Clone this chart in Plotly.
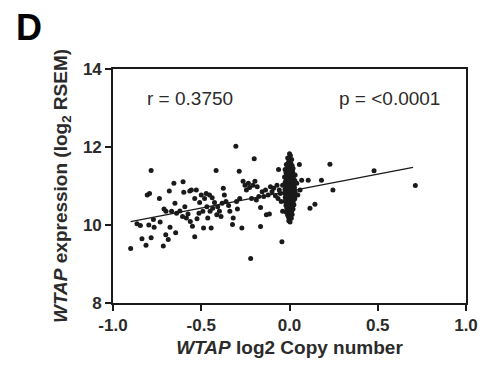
import plotly.graph_objects as go

# WTAP copy number (log2) vs expression (log2 RSEM), samples away from the diploid cluster
spread_x = [
    -0.90, -0.864, -0.845, -0.836, -0.813, -0.806, -0.793, -0.784, -0.784, -0.797,
    -0.767, -0.771, -0.737, -0.733, -0.715, -0.711, -0.70, -0.701, -0.687, -0.681,
    -0.677, -0.668, -0.655, -0.645, -0.649, -0.64, -0.621, -0.603, -0.599, -0.606,
    -0.593, -0.584, -0.575, -0.565, -0.556, -0.562, -0.55, -0.537, -0.537, -0.528,
    -0.524, -0.513, -0.509, -0.50, -0.491, -0.487, -0.481, -0.472, -0.468, -0.463,
    -0.453, -0.45, -0.444, -0.438, -0.435, -0.425, -0.416, -0.412, -0.407, -0.397,
    -0.388, -0.382, -0.375, -0.369, -0.36, -0.345, -0.338, -0.323, -0.319, -0.304,
    -0.30, -0.295, -0.285, -0.282, -0.27, -0.263, -0.252, -0.244, -0.233, -0.226,
    -0.22, -0.215, -0.207, -0.20, -0.196, -0.188, -0.183, -0.174, -0.164, -0.164,
    -0.155, -0.146, -0.136, -0.131, -0.121, -0.114, -0.108, -0.099, -0.09, -0.08,
    -0.071, -0.065, -0.062, -0.058, -0.052, -0.047, -0.043, -0.039, -0.039,
    0.032, 0.041, 0.047, 0.056, 0.06, 0.069, 0.106, 0.116, 0.144, 0.181,
    0.229, 0.246, 0.479, 0.713,
]
spread_y = [
    9.40, 10.03, 9.99, 9.65, 9.48, 10.77, 10.81, 11.40, 9.67, 10.00,
    9.94, 10.14, 10.68, 10.08, 9.46, 10.41, 10.35, 9.75, 9.63, 10.87,
    9.94, 10.35, 11.07, 9.80, 10.56, 10.30, 10.36, 11.11, 10.84, 10.22,
    10.47, 10.18, 10.28, 10.87, 10.90, 10.09, 9.97, 9.70, 10.68, 10.90,
    10.16, 10.30, 10.58, 10.77, 10.35, 9.92, 10.68, 10.81, 10.47, 10.18,
    10.77, 10.35, 9.92, 10.70, 10.43, 10.58, 11.40, 10.26, 10.47, 10.35,
    10.22, 10.56, 10.94, 10.77, 10.60, 10.50, 10.35, 10.01, 10.18, 12.02,
    10.60, 10.41, 11.38, 10.68, 9.92, 11.12, 11.02, 10.90, 11.07, 10.96,
    9.14, 10.68, 11.02, 11.70, 11.12, 10.64, 10.98, 10.73, 9.96, 10.45,
    10.85, 10.73, 10.90, 10.26, 10.77, 10.28, 10.98, 10.85, 10.94, 10.75,
    11.02, 10.68, 11.42, 10.90, 10.81, 10.60, 9.57, 11.02, 10.35,
    11.28, 11.07, 10.77, 11.55, 10.90, 11.15, 11.15, 10.43, 10.53, 11.15,
    11.56, 10.90, 11.39, 11.01,
]

# Samples with copy number close to zero
cluster_x = [
    0.0, 0.005, -0.01, 0.012, -0.005, 0.008, -0.018, 0.015, 0.0, -0.012,
    0.02, -0.025, 0.004, -0.008, 0.018, -0.02, 0.01, -0.003, 0.025, -0.015,
    0.006, -0.028, 0.014, -0.006, 0.022, -0.018, 0.002, 0.03, -0.01, 0.012,
    -0.024, 0.007, -0.002, 0.019, -0.014, 0.026, -0.03, 0.004, 0.016, -0.008,
    -0.02, 0.01, 0.028, -0.004, -0.016, 0.02, 0.0, -0.026, 0.013, -0.01,
    0.024, 0.005, -0.018, 0.032, -0.006, 0.015, -0.028, 0.002, -0.012, 0.022,
    0.008, -0.02, 0.018, -0.003, 0.027, -0.015, 0.01, -0.024, 0.004, 0.016,
    -0.008, 0.03, -0.018, 0.0, 0.012, -0.012, 0.022, -0.026, 0.006, -0.004,
    0.018, -0.016, 0.01, -0.008, 0.025, -0.02, 0.003, 0.014, -0.01, 0.006,
    -0.015, 0.02, 0.0, -0.006, 0.012, -0.018, 0.008, -0.002, 0.015, -0.01,
    0.004, -0.005, 0.01, 0.0, -0.004, 0.003,
]
cluster_y = [
    11.83, 11.78, 11.72, 11.68, 11.62, 11.58, 11.55, 11.52, 11.50, 11.47,
    11.45, 11.42, 11.40, 11.38, 11.36, 11.34, 11.32, 11.30, 11.28, 11.27,
    11.25, 11.23, 11.22, 11.20, 11.19, 11.17, 11.16, 11.14, 11.13, 11.12,
    11.10, 11.09, 11.08, 11.06, 11.05, 11.04, 11.03, 11.02, 11.01, 11.00,
    10.98, 10.97, 10.96, 10.95, 10.94, 10.93, 10.92, 10.91, 10.90, 10.89,
    10.88, 10.87, 10.86, 10.85, 10.84, 10.83, 10.82, 10.81, 10.80, 10.79,
    10.78, 10.77, 10.76, 10.75, 10.74, 10.73, 10.72, 10.71, 10.70, 10.69,
    10.68, 10.67, 10.66, 10.65, 10.64, 10.63, 10.62, 10.61, 10.60, 10.58,
    10.57, 10.56, 10.54, 10.53, 10.52, 10.50, 10.49, 10.47, 10.46, 10.44,
    10.42, 10.41, 10.39, 10.37, 10.35, 10.33, 10.31, 10.29, 10.27, 10.25,
    10.23, 10.20, 10.17, 10.14, 10.11, 10.08,
]

# Linear fit
fit_slope = 0.87
fit_intercept = 10.87
fit_x = [-0.90, 0.70]
fit_y = [fit_intercept + fit_slope * v for v in fit_x]

r_text = "r = 0.3750"
p_text = "p = <0.0001"

x_ticks = [-1.0, -0.5, 0.0, 0.5, 1.0]
x_tick_text = ["-1.0", "-0.5", "0.0", "0.5", "1.0"]
y_ticks = [8, 10, 12, 14]
y_tick_text = ["8", "10", "12", "14"]

FONT = "Liberation Sans, Arial, sans-serif"
INK = "#1a1a1a"
TEXT = "#2b2b2b"

fig = go.Figure()
fig.add_trace(go.Scatter(
    x=spread_x + cluster_x, y=spread_y + cluster_y, mode="markers",
    marker=dict(size=5, color=INK, line=dict(width=0)),
    showlegend=False, hoverinfo="skip",
))
fig.add_trace(go.Scatter(
    x=fit_x, y=fit_y, mode="lines",
    line=dict(color=INK, width=1.3),
    showlegend=False, hoverinfo="skip",
))

fig.add_annotation(x=-0.82, y=13.24, xref="x", yref="y", text=r_text,
                   showarrow=False, xanchor="left", yanchor="middle",
                   font=dict(family=FONT, size=19, color=TEXT))
fig.add_annotation(x=0.865, y=13.24, xref="x", yref="y", text=p_text,
                   showarrow=False, xanchor="right", yanchor="middle",
                   font=dict(family=FONT, size=19, color=TEXT))
fig.add_annotation(x=-0.28, y=1.275, xref="paper", yref="paper", text="<b>D</b>",
                   showarrow=False, xanchor="left", yanchor="top",
                   font=dict(family=FONT, size=36, color="black"))

axis_common = dict(
    showline=True, linecolor=INK, linewidth=1.6, mirror=True,
    ticks="outside", ticklen=6, tickwidth=1.6, tickcolor=INK,
    showgrid=False, zeroline=False,
    tickfont=dict(family=FONT, size=17, color=TEXT, weight="bold"),
)

fig.update_xaxes(
    range=[-1.0, 1.0], tickvals=x_ticks, ticktext=x_tick_text,
    title=dict(text="<i>WTAP</i> log2 Copy number", standoff=6,
               font=dict(family=FONT, size=19, color=TEXT, weight="bold")),
    **axis_common,
)
fig.update_yaxes(
    range=[8, 14], tickvals=y_ticks, ticktext=y_tick_text,
    title=dict(text="<i>WTAP</i> expression (log<sub>2</sub> RSEM)", standoff=10,
               font=dict(family=FONT, size=19, color=TEXT, weight="bold")),
    **axis_common,
)

fig.update_layout(
    width=490, height=367, autosize=False,
    margin=dict(l=113, r=20, t=69, b=61),
    paper_bgcolor="white", plot_bgcolor="white",
    font=dict(family=FONT, color=TEXT),
)

fig.write_html("out.html")
